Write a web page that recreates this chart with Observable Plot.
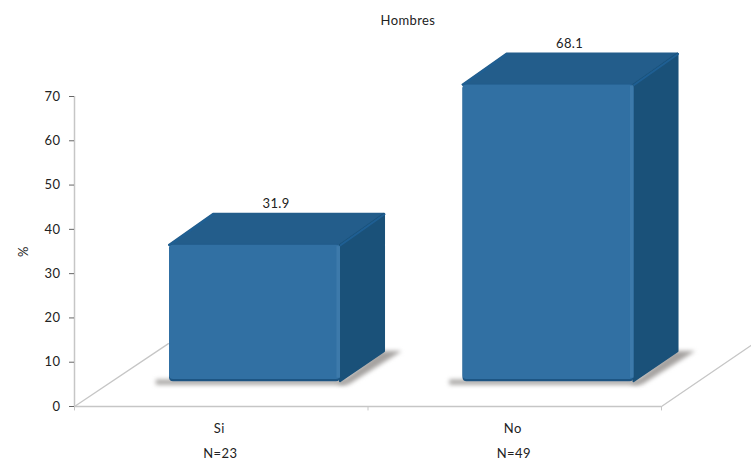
<!DOCTYPE html>
<html><head><meta charset="utf-8">
<script src="https://cdn.jsdelivr.net/npm/d3@7"></script>
<script src="https://cdn.jsdelivr.net/npm/@observablehq/plot@0.6"></script>
<style>html,body{margin:0;padding:0;background:#fff}svg{display:block}</style>
</head><body><div id="chart"></div>
<script>
const categories = ["Si", "No"];
const values = [31.9, 68.1];
const counts = ["N=23", "N=49"];
const yTicks = [0, 10, 20, 30, 40, 50, 60, 70];
const xTicks = [0, 1, 2];
const chartTitle = "Hombres";

// 3D projection, in data units
const halfW = 0.2913, shift = 0.115, depthX = 0.15, depthY = 6.8, baseLift = 5.6, topLift = 4.5;

const rows = categories.map((c, i) => {
  const centre = i + 0.5;
  return {c, v: values[i], n: counts[i], centre,
    x1: centre + shift - halfW, x2: centre + shift + halfW,
    y1: baseLift, y2: values[i] + topLift};
});
const sideFaces = rows.flatMap(r => [
  {b: r.c, x: r.x2, y1: r.y1, y2: r.y2},
  {b: r.c, x: r.x2 + depthX, y1: r.y1 + depthY, y2: r.y2 + depthY + 0.2}
]);
const topFaces = rows.flatMap(r => [
  {b: r.c, y: r.y2, x1: r.x1, x2: r.x2},
  {b: r.c, y: r.y2 + depthY + 0.2, x1: r.x1 + depthX, x2: r.x2 + depthX}
]);
const shadowSide = rows.flatMap(r => [
  {b: r.c, y: r.y1 - 0.7, x1: r.x2 - 0.01, x2: r.x2 + 0.03},
  {b: r.c, y: r.y1 + depthY, x1: r.x2 + depthX - 0.01, x2: r.x2 + depthX + 0.06}
]);
const edges = rows.flatMap(r => [
  {b: r.c + "R", x: r.x2, y: r.y2}, {b: r.c + "R", x: r.x2 + depthX, y: r.y2 + depthY + 0.2},
  {b: r.c + "L", x: r.x1, y: r.y2}, {b: r.c + "L", x: r.x1 + depthX, y: r.y2 + depthY + 0.2}
]);
const floorEdges = [
  {s: "left", x: 0, y: 0}, {s: "left", x: 0.32, y: 14.2},
  {s: "right", x: 2, y: 0}, {s: "right", x: 2.31, y: 14}
];

const font = "Lato, 'Open Sans', sans-serif";
const axisColor = "#c6c6c6";
const plot = Plot.plot({
  width: 751, height: 462,
  marginTop: 96, marginBottom: 56, marginLeft: 74, marginRight: 90,
  style: {fontFamily: font, fontSize: "13px", color: "#222", background: "#fff", letterSpacing: "0.4px"},
  x: {type: "linear", domain: [0, 2], axis: null},
  y: {type: "linear", domain: [0, 70], axis: null},
  marks: [
    // floor
    Plot.line(floorEdges, {x: "x", y: "y", z: "s", stroke: axisColor, strokeWidth: 1.3}),
    Plot.ruleY([0], {x1: 0, x2: 2, stroke: axisColor, strokeWidth: 1.5}),
    Plot.ruleX([0], {y1: 0, y2: 70, stroke: axisColor, strokeWidth: 1.5}),
    Plot.axisY({ticks: yTicks, tickSize: 5, tickPadding: 9, stroke: "#666", fontSize: 13,
      label: "%", labelAnchor: "center", labelArrow: "none", labelOffset: 56}),
    Plot.ruleX(xTicks, {x: d => d, y1: 0, y2: -1, stroke: axisColor, strokeWidth: 1}),
    // shadows
    Plot.rect(rows, {x1: d => d.x1 - 0.045, x2: d => d.x2 + 0.02, y1: d => d.y1 - 0.8, y2: d => d.y1 + 0.4,
      fill: "#aaa8a6", imageFilter: "blur(2px)"}),
    Plot.areaX(shadowSide, {y: "y", x1: "x1", x2: "x2", z: "b", fill: "#a5a2a0", imageFilter: "blur(2px)"}),
    // box faces
    Plot.areaX(topFaces, {y: "y", x1: "x1", x2: "x2", z: "b", fill: "#235d8b", stroke: "#235d8b", strokeWidth: 2, strokeLinejoin: "round"}),
    Plot.areaY(sideFaces, {x: "x", y1: "y1", y2: "y2", z: "b", fill: "#1a5179", stroke: "#1a5179", strokeWidth: 2, strokeLinejoin: "round"}),
    Plot.line(edges, {x: "x", y: "y", z: "b", stroke: "#1f5f93", strokeWidth: 2}),
    Plot.rect(rows, {x1: "x1", x2: "x2", y1: "y1", y2: "y2", fill: "#1d5583", rx: 4}),
    Plot.rect(rows, {x1: "x1", x2: "x2", y1: d => d.y1 + 0.5, y2: "y2", fill: "#3170a3", rx: 4}),
    Plot.rect(rows, {x1: d => d.x2 - 0.012, x2: "x2", y1: d => d.y1 + 0.8, y2: d => d.y2 - 0.3, fill: "#3d7aab"}),
    // labels
    Plot.text(rows, {x: d => d.centre + 0.187, y: d => d.y2 + depthY, text: d => d.v.toFixed(1), dy: -11, fontSize: 13, fill: "#222"}),
    Plot.text(rows, {x: "centre", y: 0, text: "c", dx: -2, dy: 22, fontSize: 13, fill: "#222"}),
    Plot.text(rows, {x: "centre", y: 0, text: "n", dx: -1, dy: 47, fontSize: 13, fill: "#222"}),
    Plot.text([chartTitle], {x: 1.136, y: 70, dy: -76, fontSize: 13, fill: "#222"})
  ]
});
document.getElementById("chart").append(plot);
</script></body></html>
